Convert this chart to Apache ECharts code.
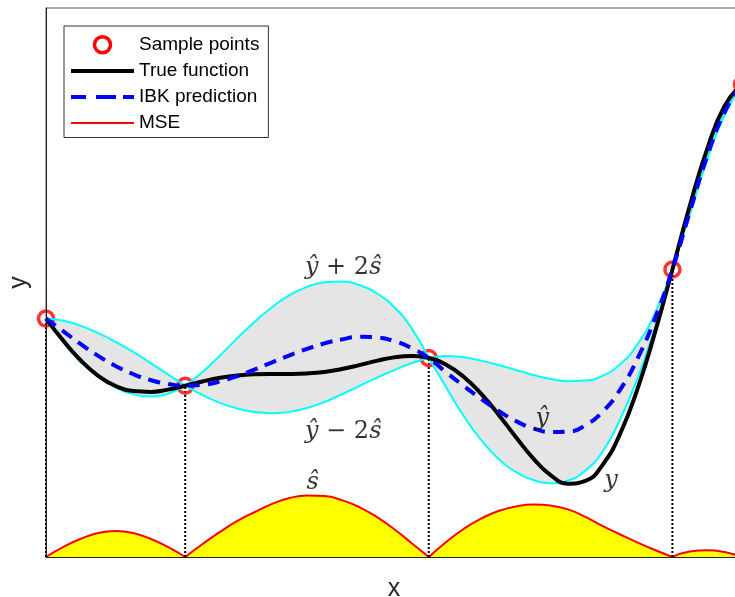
<!DOCTYPE html>
<html><head><meta charset="utf-8">
<script src="https://cdn.jsdelivr.net/npm/echarts@6/dist/echarts.min.js"></script>
<style>html,body{margin:0;padding:0;background:#fff}#c{width:735px;height:597px}</style>
</head><body><div id="c"></div>
<script>
const xs = [0,0.025,0.05,0.075,0.1,0.125,0.15,0.175,0.2,0.225,0.25,0.275,0.3,0.325,0.35,0.375,0.4,0.425,0.45,0.475,0.5,0.525,0.55,0.575,0.6,0.625,0.65,0.675,0.7,0.725,0.75,0.775,0.8,0.825,0.85,0.875,0.9,0.925,0.95,0.975,1];
const trueY = [3.027,1.813,0.738,-0.100,-0.657,-0.935,-0.978,-0.854,-0.640,-0.407,-0.210,-0.079,-0.016,0.000,0.002,0.030,0.115,0.270,0.483,0.717,0.909,0.986,0.871,0.503,-0.150,-1.074,-2.209,-3.439,-4.606,-5.522,-5.993,-5.845,-4.949,-3.254,-0.799,2.272,5.712,9.187,12.303,14.648,15.830];
const predY = [3.027,2.33,1.63,0.99,0.44,0.00,-0.33,-0.54,-0.640,-0.59,-0.41,-0.11,0.25,0.64,1.02,1.37,1.67,1.89,2.03,2.00,1.80,1.42,0.871,0.09,-0.65,-1.35,-2.01,-2.57,-2.97,-3.17,-3.15,-2.80,-2.05,-0.85,0.85,3.05,5.712,8.85,11.9,14.3,15.830];
const upperY = [3.027,2.91,2.63,2.23,1.75,1.21,0.61,-0.02,-0.640,0.11,1.01,1.96,2.86,3.66,4.31,4.76,5.01,5.06,4.86,4.41,3.66,2.51,0.871,0.99,0.91,0.73,0.49,0.22,-0.05,-0.27,-0.39,-0.36,-0.09,0.53,1.63,3.33,5.712,9.0,12.07,14.42,15.830];
const lowerY = [3.027,1.73,0.66,-0.16,-0.74,-1.10,-1.22,-1.08,-0.640,-1.16,-1.58,-1.89,-2.08,-2.14,-2.07,-1.86,-1.53,-1.11,-0.66,-0.21,0.21,0.59,0.871,-0.73,-2.28,-3.60,-4.63,-5.35,-5.79,-5.97,-5.82,-5.27,-4.22,-2.47,-0.22,2.53,5.712,8.72,11.70,14.16,15.830];
const mseY = [-10,-9.45,-9.00,-8.69,-8.58,-8.69,-9.00,-9.45,-10,-9.29,-8.63,-8.03,-7.54,-7.10,-6.78,-6.64,-6.67,-6.89,-7.27,-7.81,-8.47,-9.23,-10,-9.18,-8.47,-7.90,-7.49,-7.24,-7.13,-7.19,-7.40,-7.81,-8.31,-8.77,-9.21,-9.62,-10,-9.70,-9.63,-9.73,-10];
const sampleX = [0,0.2,0.55,0.9,1];
const sampleY = [3.027,-0.640,0.871,5.712,15.830];
const noteX = [0.427,0.427,0.383,0.713,0.812];
const noteY = [5.79,-3.16,-5.95,-2.46,-5.82];
const noteText = ['{i|ŷ}{r| + 2}{i|ŝ}','{i|ŷ}{r| − 2}{i|ŝ}','{i|ŝ}','{i|ŷ}','{i|y}'];
const legendNames = ['Sample points','True function','IBK prediction','MSE'];

const SM = 0.5;
const yMin = -10, yMax = 20;
const pair = ys => xs.map((x,i)=>[x, ys[i]]);
const idx = sampleX.map(sx => xs.findIndex(x => Math.abs(x - sx) < 1e-9));
const segs = [];
for (let k = 0; k < idx.length - 1; k++) segs.push([idx[k], idx[k+1]]);
const sl = (ys,a,b) => xs.slice(a,b+1).map((x,j)=>[x, ys[a+j]]);

const series = [];
// grey band: fill under upper, then mask under lower with white
segs.forEach(([a,b]) => {
  series.push({type:'line', data: sl(upperY,a,b), smooth:SM, symbol:'none', silent:true,
    lineStyle:{opacity:0}, areaStyle:{color:'#e5e5e5', opacity:1, origin:'start'}, z:1});
});
segs.forEach(([a,b]) => {
  series.push({type:'line', data: sl(lowerY,a,b), smooth:SM, symbol:'none', silent:true,
    lineStyle:{opacity:0}, areaStyle:{color:'#ffffff', opacity:1, origin:'start'}, z:1});
});
segs.forEach(([a,b]) => {
  series.push({name:'MSE', type:'line', data: sl(mseY,a,b), smooth:SM, symbol:'none',
    lineStyle:{color:'#ff0000', width:2}, itemStyle:{color:'#ff0000'},
    areaStyle:{color:'#ffff00', opacity:1, origin:'start'}, z:2});
});
sampleX.forEach((sx,i) => {
  series.push({type:'line', data:[[sx,yMin],[sx,sampleY[i]]], symbol:'none', silent:true,
    lineStyle:{color:'#000', width:2, type:[2,2]}, z:3});
});
series.push({name:'Sample points', type:'scatter', data: sampleX.map((x,i)=>[x, sampleY[i]]), symbol:'circle', symbolSize:15,
  itemStyle:{color:'rgba(255,255,255,0)', borderColor:'#ff0000', borderWidth:3.5}, z:3, clip:false});
segs.forEach(([a,b]) => {
  series.push({type:'line', data: sl(upperY,a,b), smooth:SM, symbol:'none', silent:true, lineStyle:{color:'#00ffff', width:2}, z:4});
  series.push({type:'line', data: sl(lowerY,a,b), smooth:SM, symbol:'none', silent:true, lineStyle:{color:'#00ffff', width:2}, z:4});
});
series.push({name:'True function', type:'line', data: pair(trueY), smooth:SM, symbol:'none',
  lineStyle:{color:'#000', width:4}, itemStyle:{color:'#000'}, z:6});
series.push({name:'IBK prediction', type:'line', data: pair(predY), smooth:SM, symbol:'none',
  lineStyle:{color:'#0000ff', width:4, type:[12,8]}, itemStyle:{color:'#0000ff'}, z:7});
const rf = {fontFamily:'DejaVu Serif', fontSize:24, color:'#000'};
series.push({type:'scatter', silent:true, symbolSize:0, z:8,
  data: noteX.map((x,i)=>({value:[x, noteY[i]], label:{formatter: noteText[i]}})),
  label:{show:true, position:'inside', rich:{i:Object.assign({fontStyle:'italic'}, rf), r:rf}}});

const legendData = [
  {name:legendNames[0], icon:'circle', itemStyle:{color:'rgba(255,255,255,0)', borderColor:'#ff0000', borderWidth:3.5, opacity:1}},
  {name:legendNames[1], icon:'path://M0,0h63v4h-63z', itemStyle:{color:'#000', borderWidth:0}},
  {name:legendNames[2], icon:'path://M0,0h15v4h-15zM25,0h20v4h-20zM52,0h11v4h-11z', itemStyle:{color:'#0000ff', borderWidth:0}},
  {name:legendNames[3], icon:'path://M0,0h63v2h-63z', itemStyle:{color:'#ff0000', borderWidth:0}}
];

const chart = echarts.init(document.getElementById('c'), null, {renderer:'canvas'});
chart.setOption({
  animation:false,
  backgroundColor:'#fff',
  grid:{left:46, right:-7, top:8, bottom:40, outerBoundsMode:'none', containLabel:false,
    show:true, borderColor:'#555', borderWidth:1, backgroundColor:'transparent'},
  legend:{data:legendData, orient:'vertical', left:64, top:26, padding:[9,9,5,7], itemWidth:63, itemHeight:16, itemGap:7,
    backgroundColor:'#fff', borderColor:'#333', borderWidth:1, selectedMode:false,
    textStyle:{fontFamily:'Liberation Sans', fontSize:19, color:'#000'}},
  xAxis:{type:'value', min:0, max:1, z:10, axisLine:{show:true, onZero:false, lineStyle:{color:'#222', width:1}},
    axisTick:{show:false}, axisLabel:{show:false}, splitLine:{show:false},
    name:'x', nameLocation:'middle', nameGap:20, nameTextStyle:{fontFamily:'Liberation Sans', fontSize:25, color:'#262626'}},
  yAxis:{type:'value', min:yMin, max:yMax, z:10, axisLine:{show:true, onZero:false, lineStyle:{color:'#222', width:1}},
    axisTick:{show:false}, axisLabel:{show:false}, splitLine:{show:false},
    name:'y', nameLocation:'middle', nameGap:14, nameTextStyle:{fontFamily:'Liberation Sans', fontSize:25, color:'#262626'}},
  series: series
});
</script></body></html>
